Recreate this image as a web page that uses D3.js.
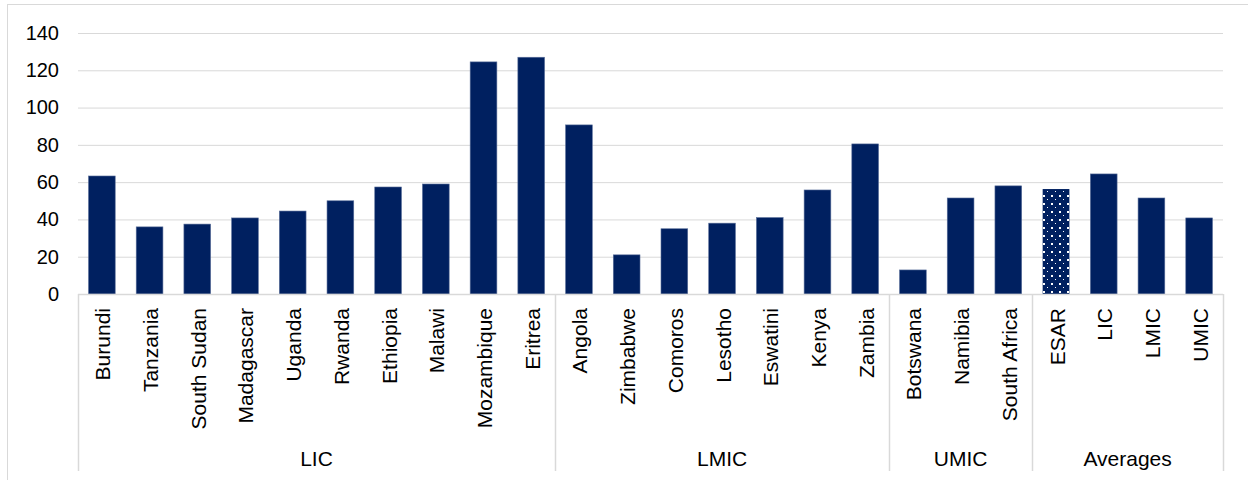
<!DOCTYPE html>
<html>
<head>
<meta charset="utf-8">
<script src="https://cdn.jsdelivr.net/npm/d3@7"></script>
<style>
  html, body { margin: 0; padding: 0; background: #fff; }
  svg { display: block; font-family: "Liberation Sans", Arial, sans-serif; }
</style>
</head>
<body>
<svg id="chart" width="1248" height="480"></svg>
<script>
// Countries in chart order, with their income group
const categories = ["Burundi","Tanzania","South Sudan","Madagascar","Uganda","Rwanda","Ethiopia","Malawi","Mozambique","Eritrea",
  "Angola","Zimbabwe","Comoros","Lesotho","Eswatini","Kenya","Zambia",
  "Botswana","Namibia","South Africa",
  "ESAR","LIC","LMIC","UMIC"];
const groups = ["LIC","LIC","LIC","LIC","LIC","LIC","LIC","LIC","LIC","LIC",
  "LMIC","LMIC","LMIC","LMIC","LMIC","LMIC","LMIC",
  "UMIC","UMIC","UMIC",
  "Averages","Averages","Averages","Averages"];
const values = [63.3, 36, 37.5, 40.8, 44.5, 50, 57.4, 59, 124.5, 127,
  90.7, 21, 35, 38, 41, 55.8, 80.5,
  12.9, 51.5, 58,
  56.3, 64.4, 51.5, 40.8];
const yTicks = [0, 20, 40, 60, 80, 100, 120, 140];
const dottedCategory = "ESAR";

const svg = d3.select("#chart");
const margin = { left: 78, right: 1223, top: 33, bottom: 294 };
const navy = "#002060";

// Outer frame
svg.append("rect").attr("x", 7.5).attr("y", 4.5).attr("width", 1260).attr("height", 500)
  .attr("fill", "none").attr("stroke", "#d9d9d9").attr("stroke-width", 1);

const x = d3.scaleBand().domain(categories).range([margin.left, margin.right]).paddingInner(0.44).paddingOuter(0.22);
const y = d3.scaleLinear().domain([0, 140]).range([margin.bottom, margin.top]);

// Gridlines and y labels
const yAxis = d3.axisLeft(y).tickValues(yTicks).tickSize(-(margin.right - margin.left)).tickPadding(19);
const gy = svg.append("g").attr("transform", `translate(${margin.left},0)`).call(yAxis);
gy.select(".domain").remove();
gy.selectAll(".tick line").attr("stroke", "#d9d9d9").attr("stroke-width", 1);
gy.selectAll(".tick text").attr("fill", "#000").attr("font-size", 20)
  .attr("font-family", "Liberation Sans, Arial, sans-serif");

// Dot pattern for the ESAR average bar
const defs = svg.append("defs");
const pat = defs.append("pattern").attr("id", "dots").attr("patternUnits", "userSpaceOnUse")
  .attr("width", 8).attr("height", 8);
pat.append("rect").attr("width", 8).attr("height", 8).attr("fill", navy);
pat.append("rect").attr("x", 3).attr("y", 3).attr("width", 2).attr("height", 2).attr("fill", "#fff");
pat.append("rect").attr("x", 7).attr("y", 7).attr("width", 2).attr("height", 2).attr("fill", "#fff");

// Bars
svg.append("g").selectAll("rect").data(categories).join("rect")
  .attr("x", d => x(d))
  .attr("y", (d, i) => y(values[i]))
  .attr("width", x.bandwidth())
  .attr("height", (d, i) => y(0) - y(values[i]))
  .attr("fill", d => d === dottedCategory ? "url(#dots)" : navy)
  .attr("stroke", d => d === dottedCategory ? "none" : "#5a6f9a")
  .attr("stroke-width", 0.6);

// Category axis line
svg.append("line").attr("x1", margin.left).attr("x2", margin.right)
  .attr("y1", margin.bottom + 0.5).attr("y2", margin.bottom + 0.5)
  .attr("stroke", "#d9d9d9").attr("stroke-width", 1.5);

// Rotated category labels
svg.append("g").selectAll("text").data(categories).join("text")
  .attr("transform", d => `translate(${x(d) + x.bandwidth() / 2 + 8.5},${margin.bottom + 14}) rotate(-90)`)
  .attr("text-anchor", "end")
  .attr("font-size", 21)
  .attr("fill", "#000")
  .text(d => d);

// Group separators and group labels
const step = x.step();
const groupNames = Array.from(new Set(groups));
const bounds = groupNames.map(g => {
  const idx = groups.map((v, i) => v === g ? i : -1).filter(i => i >= 0);
  const first = categories[idx[0]], last = categories[idx[idx.length - 1]];
  return {
    name: g,
    x0: x(first) - step * x.paddingInner() / 2,
    x1: x(last) + x.bandwidth() + step * x.paddingInner() / 2
  };
});
bounds[0].x0 = margin.left;
bounds[bounds.length - 1].x1 = margin.right;

const sepXs = [margin.left].concat(bounds.map(b => b.x1));
svg.append("g").selectAll("line").data(sepXs).join("line")
  .attr("x1", d => Math.round(d) + 0.5).attr("x2", d => Math.round(d) + 0.5)
  .attr("y1", margin.bottom).attr("y2", 471)
  .attr("stroke", "#d9d9d9").attr("stroke-width", 1.5);

svg.append("g").selectAll("text").data(bounds).join("text")
  .attr("x", d => (d.x0 + d.x1) / 2)
  .attr("y", 466)
  .attr("text-anchor", "middle")
  .attr("font-size", 21)
  .attr("fill", "#000")
  .text(d => d.name);
</script>
</body>
</html>
